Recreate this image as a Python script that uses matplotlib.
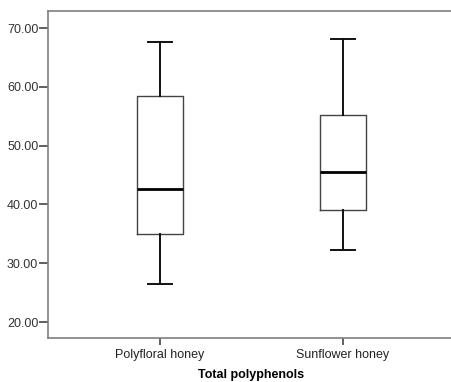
import matplotlib
matplotlib.use('Agg')
import matplotlib.pyplot as plt
from matplotlib.ticker import FormatStrFormatter

plt.rcParams['font.family'] = ['Liberation Sans', 'DejaVu Sans']

groups = ['Polyfloral honey', 'Sunflower honey']
whis_low = [26.5, 32.3]
q1 = [34.9, 39.0]
median = [42.7, 45.6]
q3 = [58.4, 55.3]
whis_high = [67.6, 68.2]

stats = []
for g, lo, a, m, b, hi in zip(groups, whis_low, q1, median, q3, whis_high):
	stats.append({'label': g, 'whislo': lo, 'q1': a, 'med': m, 'q3': b, 'whishi': hi, 'fliers': []})

fig = plt.figure(figsize=(4.52, 3.82), dpi=100)
ax = fig.add_axes([48/452, 44/382, 407/452, 327/382])

ax.bxp(stats, positions=[1, 2], widths=0.251, showfliers=False,
	boxprops=dict(color='#444444', linewidth=1.0),
	whiskerprops=dict(color='#111111', linewidth=1.4),
	capprops=dict(color='#111111', linewidth=1.4),
	medianprops=dict(color='#000000', linewidth=2.0),
	capwidths=0.126)

ax.set_xlim(0.388, 2.612)
ax.set_ylim(17.3, 72.9)
ax.set_yticks([20, 30, 40, 50, 60, 70])
ax.yaxis.set_major_formatter(FormatStrFormatter('%.2f'))
ax.set_xticks([1, 2])
ax.set_xticklabels(groups)

for s in ax.spines.values():
	s.set_color('#7f7f7f')
	s.set_linewidth(1.2)
ax.spines['right'].set_visible(False)
ax.tick_params(axis='y', length=6.5, width=1.2, color='#444444', labelsize=9, labelcolor='#333333', pad=0.5)
ax.tick_params(axis='x', length=5, width=1.2, color='#444444', labelsize=9, labelcolor='#222222', pad=3)
ax.set_xlabel('Total polyphenols', fontsize=9, fontweight='bold', labelpad=6)

fig.savefig('out.png', dpi=100)
